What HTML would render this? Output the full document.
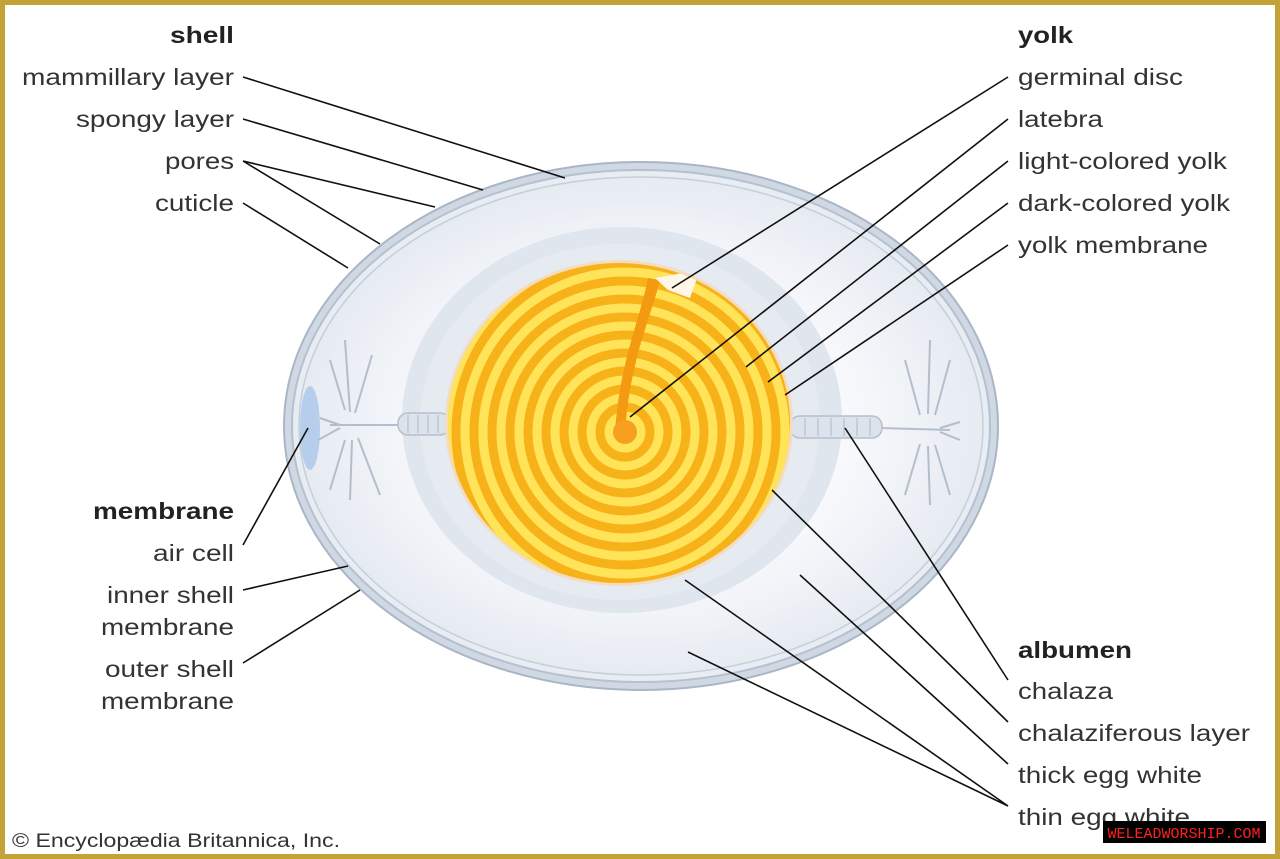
<!DOCTYPE html>
<html><head><meta charset="utf-8"><style>
html,body{margin:0;padding:0;background:#fff}
#w{position:relative;width:1270px;height:849px;border:5px solid #c4a238;background:#fff;overflow:hidden;font-family:"Liberation Sans",Arial,sans-serif;color:#333}
svg{position:absolute;left:-5px;top:-5px}
</style></head><body><div id="w">
<svg width="1280" height="859" viewBox="0 0 1280 859">
<defs>
<clipPath id="yc"><ellipse cx="619" cy="423" rx="171" ry="160"/></clipPath>
<radialGradient id="alb" cx="0.5" cy="0.5" r="0.5">
<stop offset="0.6" stop-color="#f8f9fc"/><stop offset="1" stop-color="#e6ebf2"/></radialGradient>
</defs>
<ellipse cx="641" cy="426" rx="357" ry="264" fill="#cfd8e3" stroke="#a9b6c6" stroke-width="2"/>
<ellipse cx="641" cy="426" rx="349" ry="256" fill="#e8edf3" stroke="#b5c1cf" stroke-width="2"/>
<ellipse cx="641" cy="426" rx="342" ry="249" fill="url(#alb)" stroke="#c5cfdc" stroke-width="1.5"/>
<ellipse cx="310" cy="428" rx="10" ry="42" fill="#a9c7e8" opacity="0.8"/>
<ellipse cx="622" cy="420" rx="220" ry="193" fill="#e0e6ee"/>
<ellipse cx="620" cy="422" rx="200" ry="178" fill="#e6ebf2"/>
<g stroke="#aeb8c6" stroke-width="2" fill="none" opacity="0.9">
<path d="M330 425 L400 425 M345 410 L330 360 M350 412 L345 340 M355 413 L372 355 M345 440 L330 490 M352 440 L350 500 M358 438 L380 495 M340 425 L320 418 M340 428 L318 440"/>
<path d="M950 430 L880 428 M935 415 L950 360 M928 414 L930 340 M920 415 L905 360 M935 445 L950 495 M928 446 L930 505 M920 444 L905 495 M940 428 L960 422 M940 432 L960 440"/>
</g>
<rect x="398" y="413" width="52" height="22" rx="10" fill="#dde3ec" stroke="#b5c0cd" stroke-width="1.5"/>
<rect x="790" y="416" width="92" height="22" rx="10" fill="#dde3ec" stroke="#b5c0cd" stroke-width="1.5"/>
<g stroke="#b5c0cd" stroke-width="1.2"><path d="M408 415v18M418 415v18M428 415v18M438 415v18M805 418v18M818 418v18M831 418v18M844 418v18M857 418v18M870 418v18"/></g>
<ellipse cx="619" cy="423" rx="174" ry="163" fill="#f4dcc0"/>
<g clip-path="url(#yc)">
<rect x="440" y="250" width="360" height="340" fill="#f7b21a"/>
<g fill="none" stroke="#ffe45a" stroke-width="9">
<circle cx="625" cy="432" r="16"/><circle cx="625" cy="432" r="34"/><circle cx="625" cy="432" r="52"/><circle cx="625" cy="432" r="70"/><circle cx="625" cy="432" r="88"/><circle cx="625" cy="432" r="106"/><circle cx="625" cy="432" r="124"/><circle cx="625" cy="432" r="142"/><circle cx="625" cy="432" r="160"/><circle cx="625" cy="432" r="178"/><circle cx="625" cy="432" r="196"/>
</g>
<path d="M660 280 C650 320 630 360 625 432 L615 432 C620 360 640 320 648 278 Z" fill="#f39a10"/>
<circle cx="625" cy="432" r="12" fill="#f7a020"/>
<path d="M655 278 L700 270 L690 298 L668 290 Z" fill="#fff6ea"/>
</g>
<g stroke="#111" stroke-width="1.6" fill="none">
<path d="M243 77L565 178M243 119L483 190M243 161L435 207M243 161L380 244M243 203L348 268M243 545L308 428M243 590L348 566M243 663L360 590"/>
<path d="M1008 77L672 288M1008 119L630 417M1008 161L746 367M1008 203L768 382M1008 245L785 395M1008 680L845 428M1008 722L772 490M1008 764L800 575M1008 806L685 580M1008 806L688 652"/>
</g>
<g font-family="Liberation Sans, Arial, sans-serif" font-size="23" fill="#333" lengthAdjust="spacingAndGlyphs">
<text x="170" y="43" font-weight="bold" fill="#222" textLength="64" lengthAdjust="spacingAndGlyphs">shell</text>
<text x="22" y="85" textLength="212" lengthAdjust="spacingAndGlyphs">mammillary layer</text>
<text x="76" y="127" textLength="158" lengthAdjust="spacingAndGlyphs">spongy layer</text>
<text x="165" y="169" textLength="69" lengthAdjust="spacingAndGlyphs">pores</text>
<text x="155" y="211" textLength="79" lengthAdjust="spacingAndGlyphs">cuticle</text>
<text x="93" y="519" font-weight="bold" fill="#222" textLength="141" lengthAdjust="spacingAndGlyphs">membrane</text>
<text x="153" y="561" textLength="81" lengthAdjust="spacingAndGlyphs">air cell</text>
<text x="107" y="603" textLength="127" lengthAdjust="spacingAndGlyphs">inner shell</text>
<text x="101" y="635" textLength="133" lengthAdjust="spacingAndGlyphs">membrane</text>
<text x="105" y="677" textLength="129" lengthAdjust="spacingAndGlyphs">outer shell</text>
<text x="101" y="709" textLength="133" lengthAdjust="spacingAndGlyphs">membrane</text>
<text x="1018" y="43" font-weight="bold" fill="#222" textLength="55" lengthAdjust="spacingAndGlyphs">yolk</text>
<text x="1018" y="85" textLength="165" lengthAdjust="spacingAndGlyphs">germinal disc</text>
<text x="1018" y="127" textLength="85" lengthAdjust="spacingAndGlyphs">latebra</text>
<text x="1018" y="169" textLength="209" lengthAdjust="spacingAndGlyphs">light-colored yolk</text>
<text x="1018" y="211" textLength="212" lengthAdjust="spacingAndGlyphs">dark-colored yolk</text>
<text x="1018" y="253" textLength="190" lengthAdjust="spacingAndGlyphs">yolk membrane</text>
<text x="1018" y="658" font-weight="bold" fill="#222" textLength="114" lengthAdjust="spacingAndGlyphs">albumen</text>
<text x="1018" y="699" textLength="95" lengthAdjust="spacingAndGlyphs">chalaza</text>
<text x="1018" y="741" textLength="232" lengthAdjust="spacingAndGlyphs">chalaziferous layer</text>
<text x="1018" y="783" textLength="184" lengthAdjust="spacingAndGlyphs">thick egg white</text>
<text x="1018" y="825" textLength="172" lengthAdjust="spacingAndGlyphs">thin egg white</text>
<text x="12" y="847" font-size="19" textLength="328" lengthAdjust="spacingAndGlyphs">© Encyclopædia Britannica, Inc.</text>
</g>
<rect x="1103" y="821" width="163" height="22" fill="#000"/>
<text x="1184" y="838" text-anchor="middle" font-family="Liberation Mono, monospace" font-size="15" fill="#ff2020">WELEADWORSHIP.COM</text>
</svg>
</div></body></html>
